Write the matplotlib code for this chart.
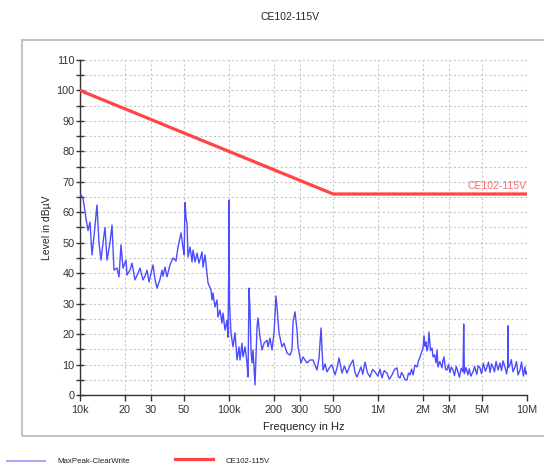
import matplotlib
matplotlib.use('Agg')

import matplotlib.pyplot as plt
import matplotlib.patches as patches
from matplotlib.lines import Line2D
from matplotlib.ticker import FixedLocator, NullLocator

plt.rcParams['font.family'] = ['Liberation Sans', 'DejaVu Sans']

TITLE = 'CE102-115V'
TRACE_NAME = 'MaxPeak-ClearWrite'
LIMIT_NAME = 'CE102-115V'

# limit line (Hz, dBuV)
limit_freq = [1e4, 5e5, 1e7]
limit_level = [100, 66, 66]

trace_khz = [
    10.0, 10.16, 10.47, 10.97, 11.32, 11.67, 12.04, 12.41, 13.0, 13.41,
    13.83, 14.27, 14.72, 15.18, 15.9, 16.4, 16.91, 17.71, 18.27, 18.84,
    19.43, 20.36, 20.67, 21.66, 22.34, 23.39, 24.5, 25.27, 26.47, 27.31,
    28.17, 29.05, 29.96, 30.9, 31.87, 32.87, 34.43, 35.51, 36.06, 37.19,
    38.36, 40.18, 42.09, 44.09, 45.47, 47.63, 49.13, 50.0, 50.67, 51.5,
    52.26, 53.07, 54.76, 56.48, 57.35, 59.15, 61.01, 62.92, 65.91, 66.93,
    69.04, 71.2, 72.3, 75.72, 76.9, 78.09, 80.54, 83.07, 84.36, 87.01,
    89.74, 91.14, 94.01, 96.96, 98.47, 99.6, 100.2, 100.8, 103.1, 106.4,
    109.7, 113.2, 116.7, 118.5, 122.2, 124.2, 128.1, 132.1, 134.2, 136.2,
    138.4, 140.5, 142.7, 144.9, 149.5, 154.2, 156.5, 161.5, 166.5, 171.8,
    179.9, 182.7, 188.4, 194.3, 200.5, 206.7, 210.0, 216.6, 226.8, 233.9,
    245.0, 256.7, 264.7, 268.9, 277.3, 286.1, 290.5, 304.3, 313.8, 333.8,
    349.7, 366.3, 389.5, 401.8, 414.5, 427.6, 441.0, 454.8, 472.0, 491.3,
    514.6, 530.0, 547.6, 573.5, 595.0, 619.4, 650.0, 679.4, 700.0, 722.8,
    768.9, 790.0, 818.1, 850.0, 883.8, 920.0, 954.8, 1000, 1030, 1064,
    1100, 1149, 1190, 1242, 1290, 1341, 1370, 1405, 1440, 1472,
    1518, 1565, 1600, 1640, 1680, 1718, 1770, 1827, 1870, 1914,
    1960, 2005, 2036, 2070, 2100, 2130, 2166, 2199, 2250, 2304,
    2340, 2400, 2451, 2489, 2528, 2600, 2689, 2730, 2773, 2840,
    2905, 2970, 3042, 3110, 3187, 3260, 3350, 3443, 3520, 3620,
    3720, 3760, 3800, 3900, 4018, 4100, 4200, 4341, 4450, 4600,
    4700, 4837, 4950, 5100, 5250, 5389, 5520, 5650, 5780, 5914,
    6050, 6200, 6400, 6591, 6750, 6900, 7118, 7300, 7420, 7458,
    7500, 7691, 7850, 8050, 8309, 8500, 8700, 8974, 9200, 9450,
    9696, 9850, 10000,
]
trace_level = [
    65.5, 65.7, 64.7, 58.0, 54.0, 56.8, 46.0, 52.0, 62.4, 50.0,
    44.3, 50.0, 55.0, 44.3, 50.0, 55.8, 41.0, 41.7, 38.8, 49.3,
    41.7, 44.3, 39.4, 41.0, 43.3, 37.8, 40.0, 41.7, 37.8, 39.0,
    41.0, 37.1, 40.0, 42.7, 38.0, 35.1, 38.0, 41.0, 39.0, 42.0,
    38.8, 42.7, 45.0, 44.0, 48.6, 53.2, 48.3, 46.0, 63.2, 58.0,
    56.5, 45.3, 48.6, 43.7, 47.6, 43.7, 46.6, 43.3, 47.0, 42.0,
    46.0, 40.0, 36.8, 34.5, 31.2, 33.5, 28.9, 31.2, 25.6, 27.9,
    23.6, 26.9, 21.3, 24.6, 19.0, 40.0, 64.0, 30.0, 20.4, 15.8,
    20.4, 11.5, 15.8, 11.5, 17.0, 12.5, 15.8, 10.5, 5.9, 35.1,
    28.0, 14.8, 10.5, 14.8, 3.3, 22.3, 25.3, 19.0, 14.8, 17.0,
    18.0, 15.8, 18.7, 14.8, 20.4, 32.5, 29.0, 20.4, 15.8, 17.0,
    13.8, 13.1, 14.8, 24.0, 27.3, 21.3, 15.8, 10.5, 12.5, 10.5,
    11.5, 11.5, 8.2, 12.0, 22.0, 8.2, 10.2, 7.6, 9.0, 9.9,
    6.6, 8.8, 12.2, 7.2, 9.5, 7.2, 9.8, 11.5, 7.5, 5.9,
    9.2, 6.8, 10.8, 7.3, 5.9, 8.4, 7.6, 6.2, 8.5, 5.6,
    8.0, 7.2, 5.2, 6.6, 8.4, 8.9, 6.0, 5.6, 7.4, 6.6,
    5.0, 4.9, 7.2, 6.6, 8.5, 6.6, 9.8, 9.2, 11.2, 12.5,
    14.0, 15.4, 19.4, 16.0, 17.4, 14.5, 15.8, 20.7, 14.6, 15.4,
    12.5, 13.2, 10.5, 14.8, 9.2, 11.0, 8.9, 11.4, 12.5, 8.4,
    8.2, 10.0, 7.4, 9.2, 8.2, 6.4, 9.4, 7.6, 5.8, 8.8,
    7.6, 23.3, 7.0, 9.0, 6.6, 8.6, 6.2, 7.6, 9.4, 6.8,
    9.6, 8.9, 7.0, 10.4, 7.8, 9.2, 10.8, 7.4, 10.2, 9.2,
    7.6, 11.0, 8.2, 10.5, 8.0, 11.2, 9.2, 6.9, 9.5, 22.7,
    9.0, 9.9, 11.6, 7.6, 9.2, 11.0, 6.6, 8.2, 10.8, 6.2,
    9.2, 6.8, 7.6,
]

xtick_vals = [1e4, 2e4, 3e4, 5e4, 1e5, 2e5, 3e5, 5e5, 1e6, 2e6, 3e6, 5e6, 1e7]
xtick_labels = ['10k', '20', '30', '50', '100k', '200', '300', '500',
                '1M', '2M', '3M', '5M', '10M']

W, H = 544, 465
fig = plt.figure(figsize=(W / 100, H / 100), dpi=100)

# grey frame around the plot area
frame = patches.Rectangle((22 / W, 1 - 436 / H), (W + 20 - 22) / W, (436 - 40) / H,
                          transform=fig.transFigure, facecolor='none',
                          edgecolor='#c4c4c4', linewidth=1.5)
fig.add_artist(frame)

ax = fig.add_axes([80 / W, 1 - 395 / H, (527 - 80) / W, (395 - 60) / H])

trace_hz = [f * 1e3 for f in trace_khz]
ax.plot(trace_hz, trace_level, color='#4c4cff', linewidth=1.0, zorder=3)
ax.plot(limit_freq, limit_level, color='#ff4545', linewidth=2.3, zorder=4)
ax.text(1e7, 67, LIMIT_NAME, color='#ff6a6a', fontsize=7.5,
        ha='right', va='bottom', zorder=5)

ax.set_xscale('log')
ax.set_xlim(1e4, 1e7)
ax.set_ylim(0, 110)
ax.xaxis.set_major_locator(FixedLocator(xtick_vals))
ax.xaxis.set_minor_locator(NullLocator())
ax.set_xticklabels(xtick_labels)
ax.set_yticks(range(0, 111, 10))
ax.set_yticks(range(5, 110, 10), minor=True)

ax.grid(True, which='major', color='#c8c8c8', linestyle=(0, (2, 2)), linewidth=0.8)
ax.grid(True, which='minor', axis='y', color='#c8c8c8', linestyle=(0, (2, 2)), linewidth=0.8)
ax.set_axisbelow(True)

for side in ['top', 'right']:
    ax.spines[side].set_visible(False)
for side in ['left', 'bottom']:
    ax.spines[side].set_color('#333333')
    ax.spines[side].set_linewidth(1.0)

ax.tick_params(axis='y', which='both', direction='inout', length=6, width=1,
               color='#333333', labelsize=7.8, labelcolor='#333333', pad=1)
ax.tick_params(axis='x', which='major', direction='out', length=4, width=1,
               color='#333333', labelsize=7.8, labelcolor='#333333', pad=3)

ax.set_xlabel('Frequency in Hz', fontsize=8, color='#222222', labelpad=5)
ax.set_ylabel('Level in dBµV', fontsize=7.5, color='#222222', labelpad=3)

fig.text(290 / W, 1 - 17 / H, TITLE, ha='center', va='center', fontsize=7.5, color='#222222')

# legend below the frame
ly = 1 - 461 / H
fig.add_artist(Line2D([7 / W, 45 / W], [ly, ly], transform=fig.transFigure,
                      color='#a8a8ff', linewidth=1.5))
fig.text(57 / W, ly, TRACE_NAME, fontsize=5.7, va='center', color='#222222')
fig.add_artist(Line2D([175 / W, 213 / W], [ly + 2 / H, ly + 2 / H], transform=fig.transFigure,
                      color='#ff4545', linewidth=2.3))
fig.text(226 / W, ly, LIMIT_NAME, fontsize=5.7, va='center', color='#222222')

fig.savefig('out.png', dpi=100)
